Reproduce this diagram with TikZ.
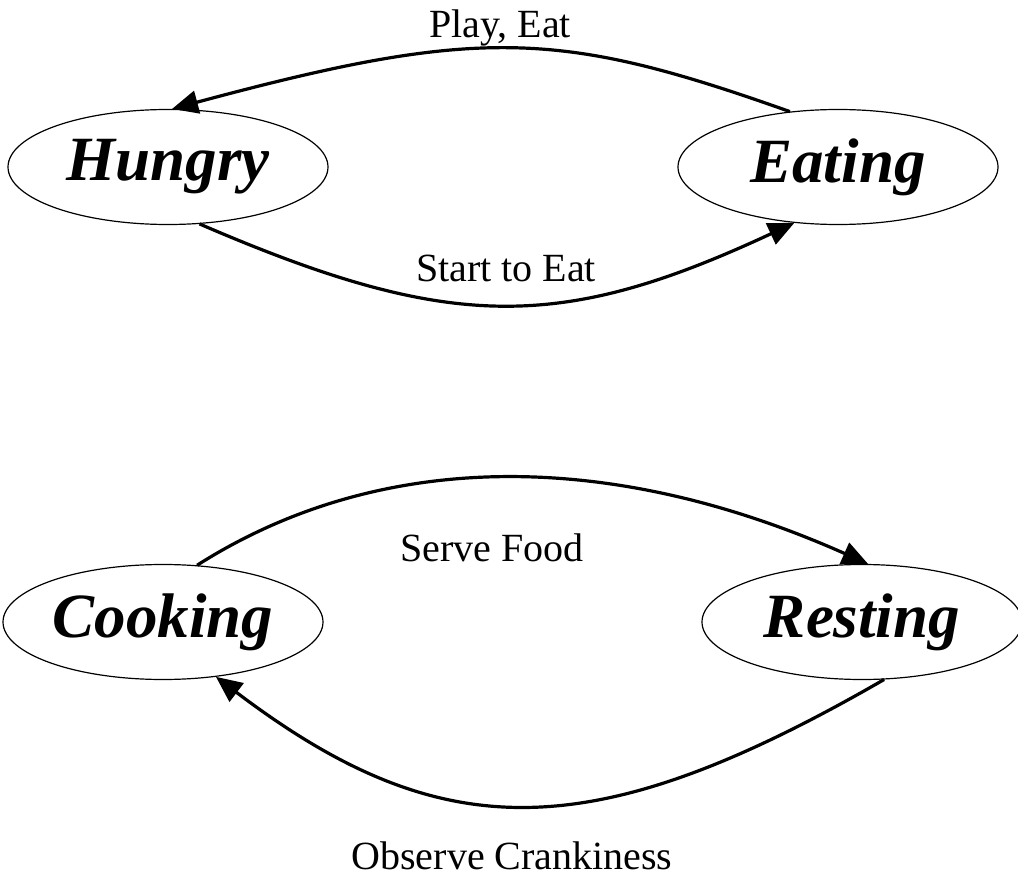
\documentclass[tikz,border=0pt]{standalone}
\usepackage{fontspec}
\setmainfont{Liberation Serif}
\usetikzlibrary{shapes.geometric,arrows.meta}
\begin{document}
\begin{tikzpicture}[x=1pt,y=-1pt,
  state/.style={draw, ellipse, line width=1.2pt, minimum width=320pt, minimum height=115pt, inner sep=0pt, font=\fontsize{63}{70}\selectfont\bfseries\itshape},
  arr/.style={line width=3.2pt, -{Triangle[length=26pt,width=23pt]}},
  lbl/.style={font=\fontsize{40}{46}\selectfont}]
\useasboundingbox (0,0) rectangle (1018,877);
\node[state] (H) at (168,167) {Hungry};
\node[state] (E) at (838,167) {Eating};
\node[state] (C) at (163,622) {Cooking};
\node[state] (R) at (862,622) {Resting};
\draw[arr] (E.131) .. controls (560,30) and (480,26) .. (H.86);
\draw[arr] (H.299) .. controls (450,332) and (560,332) .. (E.232);
\draw[arr] (C.59) .. controls (380,449) and (610,449) .. (R.84);
\draw[arr] (R.291) .. controls (592,848) and (442,848) .. (C.314);
\node[lbl] (l1) at (500,28) {Play, Eat};
\node[lbl] (l2) at (506,268) {Start to Eat};
\node[lbl] (l3) at (492,548) {Serve Food};
\node[lbl] (l4) at (512,856) {Observe Crankiness};
\end{tikzpicture}
\end{document}
